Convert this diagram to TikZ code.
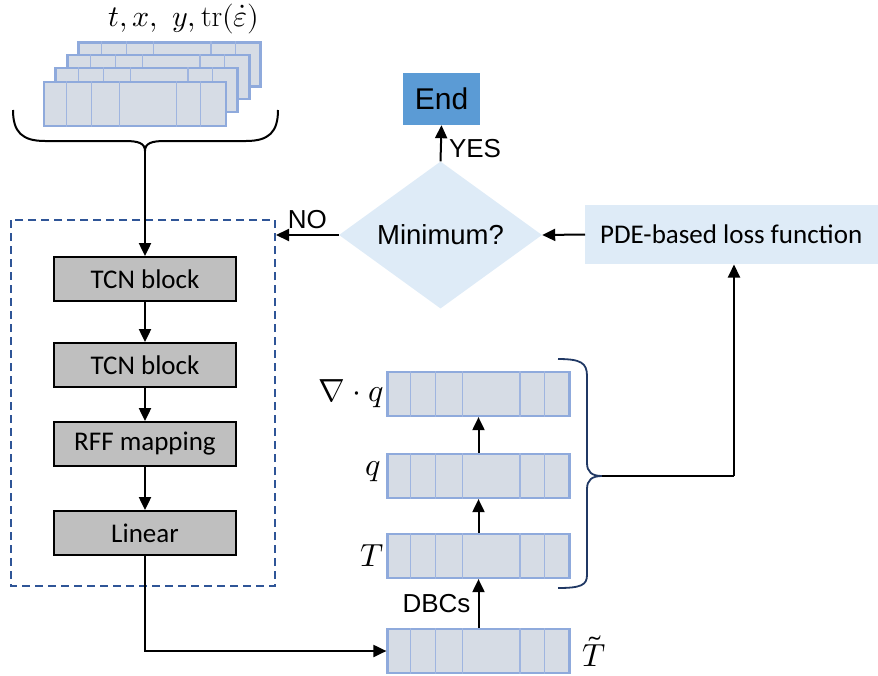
\documentclass[tikz,border=0pt]{standalone}
\usepackage{fontspec}
\usepackage{unicode-math}
\setmathfont{Latin Modern Math}
\newfontfamily\calibri{Carlito}
\newfontfamily\arial{Liberation Sans}
\usetikzlibrary{shapes.geometric,arrows.meta,calc}
\definecolor{tblfill}{HTML}{D6DCE5}
\definecolor{tbledge}{HTML}{8FAADC}
\definecolor{tbldivc}{HTML}{9FB5E0}
\definecolor{grayfill}{HTML}{BFBFBF}
\definecolor{endfill}{HTML}{5B9BD5}
\definecolor{lightfill}{HTML}{DEEBF7}
\definecolor{dashc}{HTML}{2F5597}
\definecolor{bracec}{HTML}{203864}
\newcommand{\mytable}[3]{%
  \node[tbl] (#1) at (#2,#3) {};
  \foreach \f in {0.13,0.265,0.415,0.725,0.857}
    \draw[tbldiv] ($(#1.south west)!\f!(#1.south east)$) -- ($(#1.north west)!\f!(#1.north east)$);
}
\begin{document}
\begin{tikzpicture}[x=1pt,y=-1pt,
  tbl/.style={draw=tbledge, fill=tblfill, line width=2.2pt, minimum width=182pt, minimum height=44pt, inner sep=0pt},
  tbldiv/.style={draw=tbldivc, line width=1.2pt},
  graybox/.style={draw=black, fill=grayfill, line width=1.8pt, minimum width=182pt, minimum height=44pt, inner sep=0pt, font=\calibri\fontsize{27}{30}\selectfont},
  arr/.style={line width=2pt, -{Triangle[length=13pt,width=12pt]}},
  plain/.style={line width=2pt},
  lbl/.style={font=\arial\fontsize{26}{30}\selectfont, inner sep=0pt},
  mathlbl/.style={font=\fontsize{32}{38}\selectfont, inner sep=0pt}
]
\useasboundingbox (0,0) rectangle (878,675);

% stacked input tables
\mytable{in4}{169.5}{64.5}
\mytable{in3}{158.5}{77}
\mytable{in2}{146.5}{90}
\mytable{in1}{135}{104}
\node[mathlbl, font=\fontsize{30}{34}\selectfont, anchor=base] (inlbl) at (184,26) {$t, x,\ y, \mathrm{tr}(\dot{\varepsilon})$};

% top brace
\draw[plain] (13,110) .. controls (13,132) and (22,141) .. (45,141) -- (125,141)
  .. controls (138,141) and (145,143) .. (145,151)
  .. controls (145,143) and (152,141) .. (165,141) -- (246,141)
  .. controls (269,141) and (278,132) .. (278,110);
\coordinate (btip) at (145,151);

% dashed frame
\draw[dashc, line width=1.8pt, dash pattern=on 8pt off 5pt] (11,220) rectangle (275,586);
\coordinate (frameE) at (276,235);

% left column
\node[graybox] (tcn1) at (145,279) {TCN block};
\node[graybox] (tcn2) at (145,365) {TCN block};
\node[graybox] (rff) at (145,444) {RFF mapping};
\node[graybox] (lin) at (145,533) {Linear};

\draw[arr] (btip) -- (tcn1.north);
\draw[arr] (tcn1) -- (tcn2);
\draw[arr] (tcn2) -- (rff);
\draw[arr] (rff) -- (lin);

% right column tables
\mytable{tdiv}{478.5}{394}
\mytable{tq}{478.5}{476}
\mytable{tT}{478.5}{556}
\mytable{tTt}{478.5}{651}

\node[mathlbl, anchor=east] (ldiv) at (384,394) {$\nabla\cdot q$};
\node[mathlbl, anchor=east] (lq) at (381,472) {$q$};
\node[mathlbl, anchor=east] (lT) at (384,556) {$T$};
\node[mathlbl, anchor=west] (lTt) at (582,651) {$\tilde{T}$};

\draw[arr] (lin.south) -- (145,651) -- (tTt.west);
\draw[arr] (tTt.north) -- node[lbl, anchor=east, xshift=-7pt] (dbc) {DBCs} (tT.south);
\draw[arr] (tT.north) -- (tq.south);
\draw[arr] (tq.north) -- (tdiv.south);

% right brace
\draw[bracec, line width=1.8pt] (558,359) .. controls (581,359) and (587,363) .. (587,376) -- (587,463)
  .. controls (587,472) and (592,476) .. (602,476)
  .. controls (592,476) and (587,480) .. (587,489) -- (587,575)
  .. controls (587,585) and (581,588) .. (558,588);
\coordinate (rtip) at (602,476);

% decision part
\node[draw=none, fill=lightfill, minimum width=295pt, minimum height=59pt, inner sep=0pt, anchor=west,
  font=\calibri\fontsize{27}{30}\selectfont] (pde) at (585,234.5) {\hspace*{-3pt}PDE-based loss function};
\node[diamond, fill=lightfill, minimum width=203pt, minimum height=124pt, inner sep=0pt,
  font=\arial\fontsize{27.5}{30}\selectfont] (dec) at (440.5,235) {Minimum?};
\node[fill=endfill, minimum width=77pt, minimum height=52pt, inner sep=0pt,
  font=\arial\fontsize{30}{32}\selectfont] (endn) at (441.5,99) {End};

\draw[plain] (rtip) -- (734,476);
\draw[arr] (734,476) -- (734,264.5);
\draw[arr] (pde.west) -- (dec.east);
\draw[arr] (dec.north) -- node[lbl, anchor=west, xshift=7pt, yshift=-5pt] (yes) {YES} (endn.south);
\draw[arr] (dec.west) -- node[lbl, anchor=south, yshift=5pt] (no) {NO} (frameE);
\end{tikzpicture}
\end{document}
